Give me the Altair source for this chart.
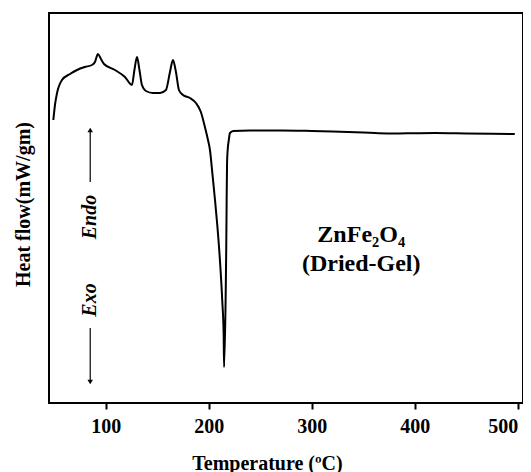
import altair as alt
import pandas as pd

# DSC curve (arbitrary heat-flow units)
temperature = [49.2, 50.8, 52.8, 57.6, 65.4, 72.2, 79.9, 86.7, 89.6, 92.5, 95.4, 98.4,
               109.0, 118.7, 125.5, 127.9, 130.4, 132.8, 135.2, 139.1, 145.9, 152.7,
               158.5, 162.4, 165.3, 168.2, 171.1, 175.0, 181.8, 187.6, 192.4, 196.3,
               199.3, 201.2, 203.7, 206.1, 208.3, 210.2, 213.1, 214.5, 214.9, 216.4,
               217.0, 217.4, 217.8, 218.4, 219.5, 220.6, 223.8, 240, 270, 300, 320,
               350, 365, 380, 400, 420, 450, 497]
heat_flow = [283, 298, 310, 323, 329, 333, 336, 338, 341, 349, 344, 339,
             333, 326, 318, 333, 346, 333, 318, 312, 310, 310,
             313, 331, 343, 331, 313, 308, 305, 300, 291, 276,
             263, 253, 228, 203, 178, 153, 103, 68, 36, 103,
             153, 203, 240, 253, 263, 270, 272, 272.5, 272.5, 272, 271.5,
             270.5, 269.8, 269.5, 269.8, 270, 269.6, 269]

df = pd.DataFrame({"T": temperature, "H": heat_flow})

x_domain = [45, 505]
y_domain = [0, 390]
x_ticks = [100, 200, 300, 400, 500]

# annotation elements
arrow_x = [85, 85]
arrow_y_from = [221, 75]
arrow_y_to = [273, 21]
arrow_shapes = ["triangle-up", "triangle-down"]
side_labels = ["Endo", "Exo"]
side_label_y = [186, 103]
sample_labels = ["ZnFe₂O₄", "(Dried-Gel)"]
sample_label_x = [348, 348]
sample_label_y = [161, 132]

xs = alt.Scale(domain=x_domain, nice=False, zero=False)
ys = alt.Scale(domain=y_domain, nice=False, zero=False)

line = alt.Chart(df).mark_line(color="black", strokeWidth=2, interpolate="monotone").encode(
    x=alt.X("T:Q", scale=xs, axis=alt.Axis(
        title="Temperature (ºC)", values=x_ticks, grid=False, domain=False,
        tickSize=6, tickWidth=2, tickColor="black", labelFontSize=20,
        labelFontWeight="bold", labelColor="black", labelPadding=7,
        labelAlign={"expr": "datum.value == 500 ? 'right' : 'center'"},
        labelFont="Liberation Serif", titleFont="Liberation Serif",
        titleFontSize=20, titleFontWeight="bold", titleColor="black",
        titleX=218, titleY=66, titleBaseline="alphabetic", titleAnchor="middle")),
    y=alt.Y("H:Q", scale=ys, axis=alt.Axis(
        title="Heat flow(mW/gm)", labels=False, ticks=False, grid=False, domain=False,
        titleFont="Liberation Serif", titleFontSize=20, titleFontWeight="bold",
        titleColor="black", titleAngle=-90, titleX=-20, titleY=191,
        titleBaseline="alphabetic", titleAlign="center")),
)

adf = pd.DataFrame({"x": arrow_x, "y1": arrow_y_from, "y2": arrow_y_to, "shape": arrow_shapes})
rules = alt.Chart(adf).mark_rule(color="black", strokeWidth=1.2).encode(
    x=alt.X("x:Q", scale=xs), y=alt.Y("y1:Q", scale=ys), y2="y2:Q")
heads = alt.Chart(adf).mark_point(filled=True, color="black", size=30, opacity=1).encode(
    x=alt.X("x:Q", scale=xs), y=alt.Y("y2:Q", scale=ys),
    shape=alt.Shape("shape:N", scale=None))

sdf = pd.DataFrame({"x": arrow_x, "y": side_label_y, "t": side_labels})
side = alt.Chart(sdf).mark_text(font="Liberation Serif", fontSize=20, fontWeight="bold",
                                fontStyle="italic", angle=270, baseline="middle",
                                align="center", color="black").encode(
    x=alt.X("x:Q", scale=xs), y=alt.Y("y:Q", scale=ys), text="t:N")

ldf = pd.DataFrame({"x": sample_label_x, "y": sample_label_y, "t": sample_labels})
labels = alt.Chart(ldf).mark_text(font="Liberation Serif", fontSize=24, fontWeight="bold",
                                  baseline="alphabetic", align="center", color="black").encode(
    x=alt.X("x:Q", scale=xs), y=alt.Y("y:Q", scale=ys), text="t:N")

chart = alt.layer(line, rules, heads, side, labels).properties(
    width=474, height=390,
    autosize=alt.AutoSizeParams(type="none"),
    padding={"left": 41, "top": 5, "right": 0, "bottom": 72},
    background="white",
).configure_view(stroke="black", strokeWidth=2)

chart.save("out.html", embed_options={"renderer": "svg", "actions": False})
